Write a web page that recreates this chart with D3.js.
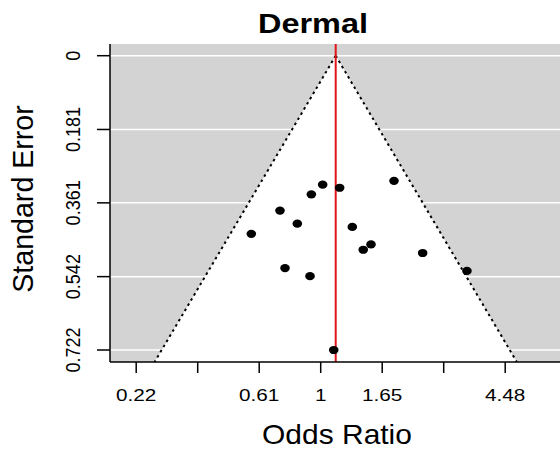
<!DOCTYPE html>
<html><head><meta charset="utf-8">
<script src="https://cdn.jsdelivr.net/npm/d3@7"></script>
<style>body{margin:0;background:#fff}svg{display:block}text{font-family:"Liberation Sans",Arial,sans-serif}</style>
</head><body><svg id="c" width="560" height="454"></svg>
<script>
// log odds ratios and standard errors
const yi  = [0.016,-0.076,0.154,0.596,-0.331,-0.190,0.257,-0.564,0.346,0.409,0.829,-0.290,-0.087,1.189,0.106];
const sei = [0.3165,0.340,0.324,0.307,0.380,0.412,0.420,0.437,0.476,0.463,0.484,0.521,0.541,0.528,0.722];
const estimate = 0.122;
const xTicks = [-1.5,-1,-0.5,0,0.5,1,1.5];
const xTickLabels = ["0.22","","0.61","1","1.65","","4.48"];
const yTicks = [0,0.181,0.361,0.542,0.722];
const yTickLabels = ["0","0.181","0.361","0.542","0.722"];

const svg = d3.select("#c");
const L=110, T=44, B=362, R=560;
const x = d3.scaleLinear().domain([0,1]).range([320.7,443.7]);
const y = d3.scaleLinear().domain([0,0.722]).range([55.7,350]);
const seBottom = y.invert(B);

svg.append("rect").attr("x",L).attr("y",T).attr("width",R-L).attr("height",B-T).attr("fill","#d3d3d3");
svg.selectAll(".grid").data(yTicks).join("line")
  .attr("x1",L).attr("x2",R).attr("y1",d=>y(d)).attr("y2",d=>y(d))
  .attr("stroke","#fff").attr("stroke-width",1.5);

const z=1.96;
const poly=[[estimate,0],[estimate-z*seBottom,seBottom],[estimate+z*seBottom,seBottom]];
svg.append("path").attr("d","M"+poly.map(p=>[x(p[0]),y(p[1])].join(",")).join("L")+"Z").attr("fill","#fff");
[-1,1].forEach(s=>{
  svg.append("line").attr("x1",x(estimate)).attr("y1",y(0))
    .attr("x2",x(estimate+s*z*seBottom)).attr("y2",y(seBottom))
    .attr("stroke","#000").attr("stroke-width",2).attr("stroke-dasharray","2.5,3.5");
});

svg.append("line").attr("x1",x(estimate)).attr("x2",x(estimate)).attr("y1",T).attr("y2",B)
  .attr("stroke","#e0141a").attr("stroke-width",2);

svg.selectAll(".pt").data(yi.map((v,i)=>[v,sei[i]])).join("ellipse")
  .attr("cx",d=>x(d[0])).attr("cy",d=>y(d[1])).attr("rx",4.8).attr("ry",4.1).attr("fill","#000");

// axes
svg.append("line").attr("x1",L).attr("x2",L).attr("y1",T).attr("y2",B).attr("stroke","#000").attr("stroke-width",1.5);
svg.append("line").attr("x1",L).attr("x2",R).attr("y1",B).attr("y2",B).attr("stroke","#000").attr("stroke-width",1.5);
svg.selectAll(".xt").data(xTicks).join("line")
  .attr("x1",d=>x(d)).attr("x2",d=>x(d)).attr("y1",B).attr("y2",B+11).attr("stroke","#000").attr("stroke-width",1.5);
svg.selectAll(".xl").data(xTicks).join("text")
  .attr("transform",d=>`translate(${x(d)},401) scale(1.22,1)`).attr("text-anchor","middle").attr("font-size",17)
  .text((d,i)=>xTickLabels[i]);
svg.selectAll(".yt").data(yTicks).join("line")
  .attr("x1",L-13).attr("x2",L).attr("y1",d=>y(d)).attr("y2",d=>y(d)).attr("stroke","#000").attr("stroke-width",1.5);
svg.selectAll(".yl").data(yTicks).join("text")
  .attr("transform",d=>`translate(80,${y(d)}) rotate(-90) scale(1.03,1.15)`).attr("text-anchor","middle").attr("font-size",17.5)
  .text((d,i)=>yTickLabels[i]);

svg.append("text").attr("transform","translate(313,33) scale(1.16,1)").attr("text-anchor","middle").attr("font-size",28).attr("font-weight","bold").text("Dermal");
svg.append("text").attr("transform","translate(337,444) scale(1.11,1)").attr("text-anchor","middle").attr("font-size",27).text("Odds Ratio");
svg.append("text").attr("transform","translate(33,199) rotate(-90) scale(1.04,1.1)").attr("text-anchor","middle").attr("font-size",27.5).text("Standard Error");
</script></body></html>
